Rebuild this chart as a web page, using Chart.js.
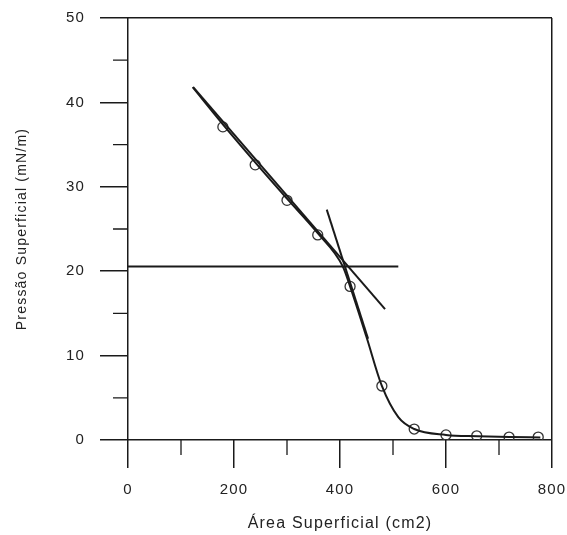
<!DOCTYPE html>
<html>
<head>
<meta charset="utf-8">
<script src="https://cdn.jsdelivr.net/npm/chart.js@4"></script>
<style>
  body { margin: 0; background: #fff; }
  #wrap { width: 567px; height: 535px; }
</style>
</head>
<body>
<div id="wrap"><canvas id="chart"></canvas></div>
<script>
// measured points (open circles)
const areaPts = [179, 240, 300, 358, 419, 479, 540, 600, 658, 719, 774];
const pressPts = [37.1, 32.6, 28.4, 24.3, 18.2, 6.4, 1.3, 0.6, 0.5, 0.35, 0.35];

// fitted curve
const curveArea = [122, 179, 240, 300, 358, 405, 419, 450, 479, 510, 540, 600, 660, 720, 778];
const curvePress = [41.8, 37.4, 32.9, 28.6, 24.5, 20.6, 18.2, 12.2, 6.4, 2.7, 1.3, 0.6, 0.45, 0.35, 0.3];

// straight construction lines
const upperArea = [123, 485];
const upperPress = [41.8, 15.5];
const steepArea = [375, 453];
const steepPress = [27.3, 12.0];
const plateauArea = [0, 510];
const plateauPress = [20.55, 20.55];

// minor tick positions
const xMinor = [100, 300, 500, 700];
const yMinor = [5, 15, 25, 35, 45];

const toXY = (xs, ys) => xs.map((x, i) => ({ x: x, y: ys[i] }));
const ink = '#1a1a1a';
const fontFamily = '"Liberation Sans", Arial, sans-serif';

// short minor ticks outside the frame
const minorTicks = {
    id: 'minorTicks',
    beforeDraw(chart) {
        chart.ctx.letterSpacing = '1.2px';
    },
    afterDraw(chart) {
        const ctx = chart.ctx;
        const xs = chart.scales.x, ys = chart.scales.y;
        const area = chart.chartArea;
        ctx.save();
        ctx.strokeStyle = ink;
        ctx.lineWidth = 1.3;
        ctx.beginPath();
        xMinor.forEach(v => {
            const px = xs.getPixelForValue(v);
            ctx.moveTo(px, area.bottom);
            ctx.lineTo(px, area.bottom + 15);
        });
        yMinor.forEach(v => {
            const py = ys.getPixelForValue(v);
            ctx.moveTo(area.left, py);
            ctx.lineTo(area.left - 15, py);
        });
        ctx.stroke();
        ctx.restore();
    }
};

const lineSet = (data, extra) => Object.assign({
    type: 'line',
    data: data,
    borderColor: ink,
    borderWidth: 2,
    pointRadius: 0,
    fill: false
}, extra || {});

new Chart(document.getElementById('chart'), {
    type: 'scatter',
    data: {
        datasets: [
            lineSet(toXY(plateauArea, plateauPress)),
            lineSet(toXY(upperArea, upperPress)),
            lineSet(toXY(steepArea, steepPress)),
            lineSet(toXY(curveArea, curvePress), { cubicInterpolationMode: 'monotone' }),
            {
                type: 'scatter',
                data: toXY(areaPts, pressPts),
                pointStyle: 'circle',
                pointRadius: 5,
                pointBorderWidth: 1.3,
                pointBorderColor: '#333',
                pointBackgroundColor: 'rgba(0,0,0,0)'
            }
        ]
    },
    options: {
        responsive: true,
        maintainAspectRatio: false,
        animation: false,
        layout: { padding: { top: 18, right: 15, left: 0, bottom: 0 } },
        plugins: {
            legend: { display: false },
            tooltip: { enabled: false }
        },
        scales: {
            x: {
                type: 'linear',
                min: 0,
                max: 800,
                afterFit: s => {
                    s.height = 95;
                    s.paddingLeft = 0;
                    s.paddingRight = 0;
                },
                border: { display: false },
                grid: {
                    color: c => (c.tick && (c.tick.value === 0 || c.tick.value === 800)) ? ink : 'rgba(0,0,0,0)',
                    tickColor: ink,
                    lineWidth: 1.5,
                    tickLength: 28
                },
                ticks: {
                    stepSize: 200,
                    color: '#222',
                    padding: 13,
                    maxRotation: 0,
                    font: { family: fontFamily, size: 15 }
                },
                title: {
                    display: true,
                    text: 'Área Superficial (cm2)',
                    color: '#222',
                    padding: { top: 0, bottom: 2 },
                    font: { family: fontFamily, size: 16 }
                }
            },
            y: {
                type: 'linear',
                min: 0,
                max: 50,
                afterFit: s => {
                    s.width = 128;
                    s.paddingTop = 0;
                    s.paddingBottom = 0;
                },
                border: { display: false },
                grid: {
                    color: c => (c.tick && (c.tick.value === 0 || c.tick.value === 50)) ? ink : 'rgba(0,0,0,0)',
                    tickColor: ink,
                    lineWidth: 1.5,
                    tickLength: 28
                },
                ticks: {
                    stepSize: 10,
                    color: '#222',
                    padding: 15,
                    font: { family: fontFamily, size: 15 }
                },
                title: {
                    display: true,
                    text: 'Pressão Superficial (mN/m)',
                    color: '#222',
                    padding: { top: 14, bottom: 0 },
                    font: { family: fontFamily, size: 14 }
                }
            }
        }
    },
    plugins: [minorTicks]
});
</script>
</body>
</html>
